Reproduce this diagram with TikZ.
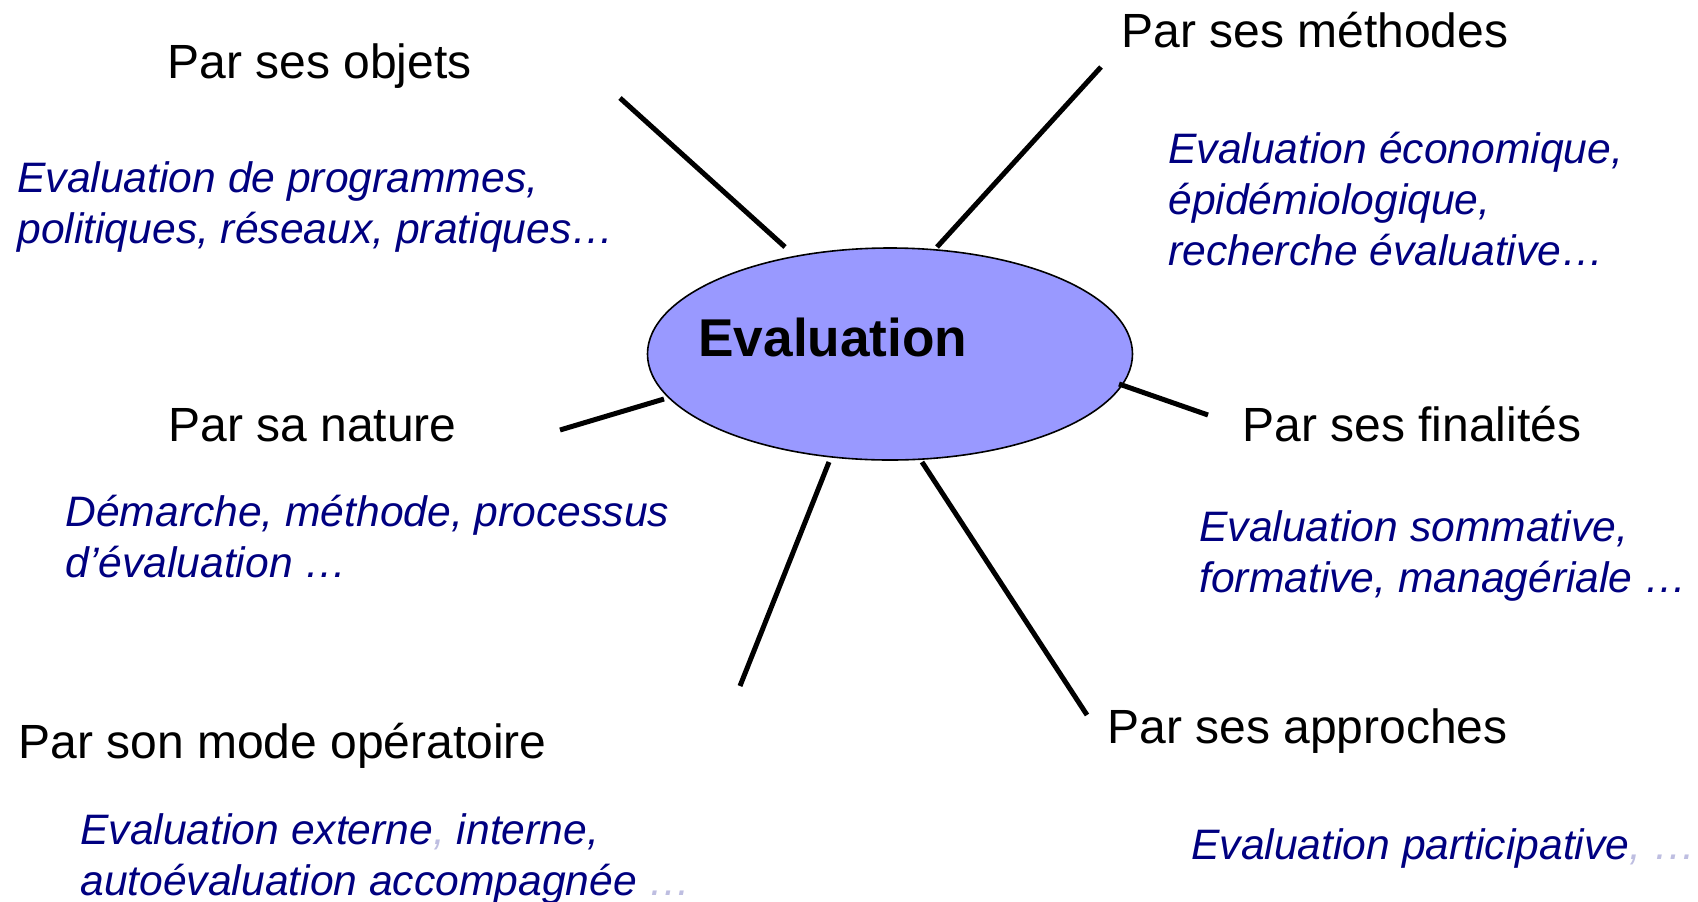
\documentclass[tikz,border=0pt]{standalone}
\usepackage{fontspec}
\setmainfont{Liberation Sans}
\usetikzlibrary{shapes.geometric}
\definecolor{navy}{RGB}{0,0,128}
\definecolor{faint}{RGB}{190,190,225}
\definecolor{ellfill}{RGB}{153,153,255}
\begin{document}
\begin{tikzpicture}[x=0.5pt,y=-0.5pt,
  head/.style={anchor=base west, inner sep=0, font=\fontsize{24}{28}\selectfont},
  detail/.style={anchor=base west, inner sep=0, align=left, text=navy, font=\fontsize{21.3}{25.5}\selectfont\itshape},
  spoke/.style={line width=2.5pt, line cap=butt}]
\useasboundingbox (0,0) rectangle (1698,901);
% central ellipse
\node[ellipse, draw, line width=0.8pt, fill=ellfill, minimum width=242.5pt, minimum height=106pt, inner sep=0] (eval) at (890,354) {};
\node[anchor=base west, inner sep=0, font=\fontsize{26.6}{30}\selectfont\bfseries] (evaltxt) at (698,356) {Evaluation};
% spoke end points
\coordinate (objA) at (620,98);   \coordinate (objB) at (785,247);
\coordinate (metA) at (1101,67);  \coordinate (metB) at (937,247);
\coordinate (natA) at (560,430);  \coordinate (natB) at (664,399);
\coordinate (finA) at (1208,415); \coordinate (finB) at (1119,384);
\coordinate (modA) at (740,686);  \coordinate (modB) at (829,462);
\coordinate (appA) at (1087,715); \coordinate (appB) at (922,462);
\draw[spoke] (objA) -- (objB);
\draw[spoke] (metA) -- (metB);
\draw[spoke] (natA) -- (natB);
\draw[spoke] (finA) -- (finB);
\draw[spoke] (modA) -- (modB);
\draw[spoke] (appA) -- (appB);
% headings
\node[head] (objets) at (167,78) {Par ses objets};
\node[head] (methodes) at (1121,47) {Par ses méthodes};
\node[head] (nature) at (168,441) {Par sa nature};
\node[head] (finalites) at (1242,441) {Par ses finalités};
\node[head] (mode) at (18,758) {Par son mode opératoire};
\node[head] (approches) at (1107,743) {Par ses approches};
% details (anchor = baseline of the last line)
\node[detail] (objetsd) at (17,243) {Evaluation de programmes,\\politiques, réseaux, pratiques…};
\node[detail] (methodesd) at (1168,265) {Evaluation économique,\\épidémiologique,\\recherche évaluative…};
\node[detail] (natured) at (65,577) {Démarche, méthode, processus\\d’évaluation …};
\node[detail] (finalitesd) at (1199,592) {Evaluation sommative,\\formative, managériale …};
\node[detail] (moded) at (80,895) {Evaluation externe{\color{faint},} interne,\\autoévaluation accompagnée {\color{faint}…}};
\node[detail] (approchesd) at (1191,859) {Evaluation participative{\color{faint}, …}};
\end{tikzpicture}
\end{document}
